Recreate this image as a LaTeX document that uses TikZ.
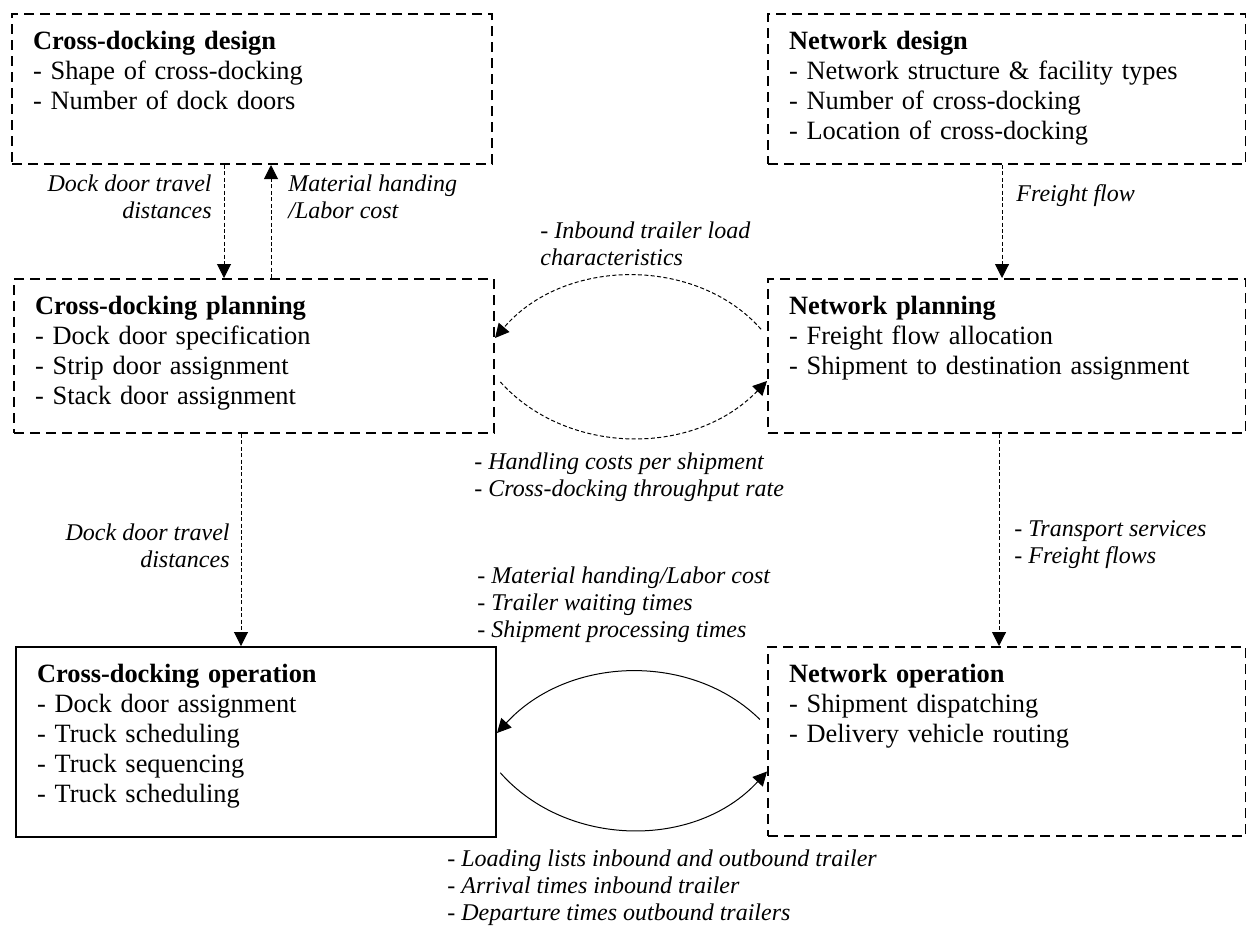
\documentclass[tikz,border=0pt]{standalone}
\usepackage{fontspec}
\setmainfont{Liberation Serif}
\usetikzlibrary{arrows.meta}

\newcommand{\boxfont}{\fontsize{13.2pt}{15pt}\selectfont}
\newcommand{\flowfont}{\fontsize{12pt}{13.6pt}\selectfont\itshape}

\tikzset{
    layer/.style={draw, line width=1pt, dash pattern=on 5pt off 3pt,
        anchor=north west, align=left, font=\boxfont,
        text width=219pt, inner xsep=10.5pt, inner ysep=0pt, text height=17.5pt},
    flow/.style={-{Triangle[width=7pt,length=7pt]}, line width=0.5pt,
        dash pattern=on 2pt off 1.2pt},
    sflow/.style={flow, solid},
    info/.style={font=\flowfont, inner sep=0pt},
}

\begin{document}
\begin{tikzpicture}[x=0.5pt,y=-0.5pt]
    \useasboundingbox (0,0) rectangle (1246,928);
    %% cross-docking levels
    \node[layer, text depth=57.5pt] (cdd) at (11,13)
        {\textbf{Cross-docking design}\\- Shape of cross-docking\\- Number of dock doors};
    \node[layer, text depth=59.5pt] (cdp) at (13,278)
        {\textbf{Cross-docking planning}\\- Dock door specification\\- Strip door assignment\\- Stack door assignment};
    \node[layer, solid, text depth=77.5pt] (cdo) at (15,646)
        {\textbf{Cross-docking operation}\\- Dock door assignment\\- Truck scheduling\\- Truck sequencing\\- Truck scheduling};
    %% network levels
    \node[layer, text width=218pt, text depth=57.5pt] (nd) at (767,13)
        {\textbf{Network design}\\- Network structure \& facility types\\- Number of cross-docking\\- Location of cross-docking};
    \node[layer, text width=218pt, text depth=59.5pt] (np) at (767,278)
        {\textbf{Network planning}\\- Freight flow allocation\\- Shipment to destination assignment};
    \node[layer, text width=218pt, text depth=77pt] (no) at (767,646)
        {\textbf{Network operation}\\- Shipment dispatching\\- Delivery vehicle routing};
    %% vertical flows
    \draw[flow] (cdd.south -| 224,0) -- (cdp.north -| 224,0);
    \draw[flow] (cdp.north -| 271,0) -- (cdd.south -| 271,0);
    \draw[flow] (cdp.south -| 241,0) -- (cdo.north -| 241,0);
    \draw[flow] (nd.south -| 1002,0) -- (np.north -| 1002,0);
    \draw[flow] (np.south -| 999,0) -- (no.north -| 999,0);
    %% horizontal flows
    \draw[flow, shorten <=4.5pt] ([yshift=10pt]np.west) to[bend right=49] ([yshift=9pt]cdp.east);
    \draw[flow, shorten <=4pt] ([yshift=-10pt]cdp.east) to[bend right=47] ([yshift=-12.5pt]np.west);
    \draw[sflow, shorten <=5pt] ([yshift=7.5pt]no.west) to[bend right=46] ([yshift=4.5pt]cdo.east);
    \draw[sflow, shorten <=2.5pt] ([yshift=-13.5pt]cdo.east) to[bend right=48] ([yshift=-15pt]no.west);
    %% flow labels
    \node[info, anchor=north east, align=right] (ddt1) at (212,174) {Dock door travel\\distances};
    \node[info, anchor=north west, align=left] (mat) at (288,174) {Material handing\\/Labor cost};
    \node[info, anchor=north west] (ff) at (1016,184) {Freight flow};
    \node[info, anchor=north west, align=left] (inb) at (540,221) {- Inbound trailer load\\characteristics};
    \node[info, anchor=north west, align=left] (hand) at (474,452)
        {- Handling costs per shipment\\- Cross-docking throughput rate};
    \node[info, anchor=north east, align=right] (ddt2) at (230,523) {Dock door travel\\distances};
    \node[info, anchor=north west, align=left] (ts) at (1014,520) {- Transport services\\- Freight flows};
    \node[info, anchor=north west, align=left] (mh) at (477,566)
        {- Material handing/Labor cost\\- Trailer waiting times\\- Shipment processing times};
    \node[info, anchor=north west, align=left] (load) at (447,849)
        {- Loading lists inbound and outbound trailer\\- Arrival times inbound trailer\\- Departure times outbound trailers};
\end{tikzpicture}
\end{document}
